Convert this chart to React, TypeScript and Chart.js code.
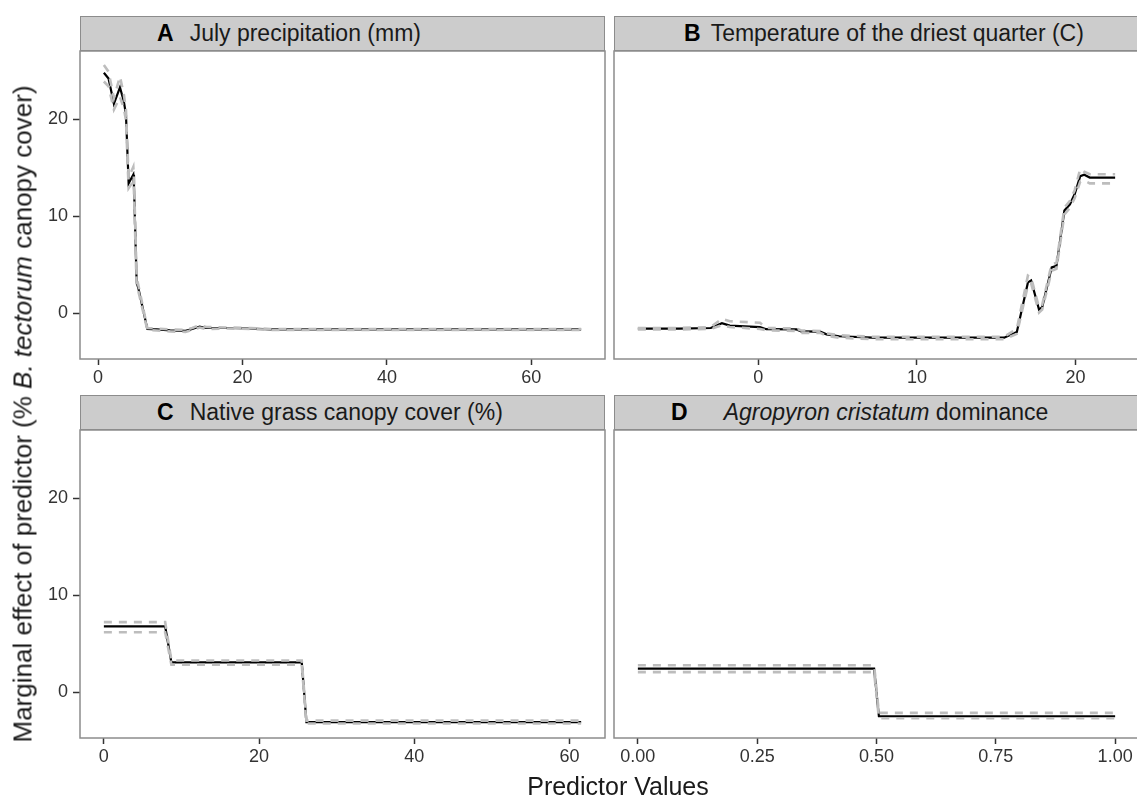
import React, { useEffect, useRef } from "react";
import { Chart, registerables } from "chart.js";

Chart.register(...registerables);

// ---------- data ----------
const yTickValues = [0, 10, 20];
const yLow = -3.25;
const yHigh = 25.6;

// A: July precipitation (mm)
const aX = [0.8, 1.45, 2.19, 3.03, 3.58, 3.86, 4.23, 4.59, 4.88, 4.97, 5.34, 5.61, 6.82, 8.12, 9.98, 12.11, 13.04, 14.06, 14.98, 17.85, 21.09, 23.87, 31.7, 40.96, 50.31, 59.56, 66.9];
const aMean = [24.8, 24.2, 21.6, 23.3, 21.8, 20.5, 13.4, 13.9, 14.3, 13.2, 3.2, 2.5, -1.6, -1.65, -1.75, -1.8, -1.6, -1.35, -1.5, -1.5, -1.55, -1.65, -1.65, -1.65, -1.65, -1.65, -1.65];
const aUpper = [25.6, 24.9, 22.2, 24.4, 22.5, 21.0, 14.0, 14.6, 15.1, 13.8, 3.7, 2.8, -1.5, -1.55, -1.65, -1.7, -1.5, -1.2, -1.4, -1.45, -1.5, -1.6, -1.6, -1.6, -1.6, -1.6, -1.6];
const aLower = [23.9, 23.4, 21.0, 22.3, 21.1, 19.9, 12.9, 13.3, 13.6, 12.6, 2.7, 2.2, -1.7, -1.75, -1.85, -1.9, -1.7, -1.45, -1.6, -1.55, -1.6, -1.7, -1.7, -1.7, -1.7, -1.7, -1.7];
const aTicks = [0, 20, 40, 60];

// B: Temperature of the driest quarter (C)
const bX = [-7.6, -5, -3.0, -2.3, -1.8, 0.1, 0.5, 2.4, 2.7, 3.9, 4.3, 5.1, 7.2, 10, 13, 15.5, 16.3, 17.0, 17.2, 17.7, 17.9, 18.5, 18.8, 19.3, 19.65, 19.95, 20.3, 20.55, 20.9, 22.5];
const bMean = [-1.57, -1.57, -1.5, -1.0, -1.25, -1.4, -1.62, -1.65, -1.85, -1.88, -2.15, -2.35, -2.5, -2.5, -2.5, -2.5, -1.9, 3.2, 3.4, 0.4, 0.65, 4.75, 4.9, 10.6, 11.25, 12.3, 14.15, 14.3, 14.0, 14.0];
const bUpper = [-1.5, -1.5, -1.4, -0.55, -0.8, -0.95, -1.5, -1.55, -1.75, -1.8, -2.05, -2.25, -2.4, -2.4, -2.4, -2.4, -1.6, 3.9, 3.7, 0.6, 0.9, 5.1, 5.2, 10.9, 11.6, 12.7, 14.9, 14.6, 14.35, 14.35];
const bLower = [-1.65, -1.65, -1.6, -1.2, -1.4, -1.6, -1.75, -1.8, -2.0, -2.0, -2.3, -2.5, -2.65, -2.65, -2.65, -2.65, -2.1, 2.9, 3.1, 0.1, 0.4, 4.4, 4.6, 10.2, 10.9, 11.9, 13.6, 13.7, 13.4, 13.4];
const bTicks = [0, 10, 20];

// C: Native grass canopy cover (%)
const cX = [0, 7.9, 8.7, 25.5, 26.1, 61.5];
const cMean = [6.8, 6.8, 3.1, 3.1, -3.05, -3.05];
const cUpper = [7.25, 7.25, 3.3, 3.3, -2.9, -2.9];
const cLower = [6.2, 6.2, 2.85, 2.85, -3.2, -3.2];
const cTicks = [0, 20, 40, 60];

// D: Agropyron cristatum dominance
const dX = [0, 0.495, 0.505, 1];
const dMean = [2.45, 2.45, -2.45, -2.45];
const dUpper = [2.8, 2.8, -2.1, -2.1];
const dLower = [2.1, 2.1, -2.65, -2.65];
const dTicks = [0, 0.25, 0.5, 0.75, 1];

// ---------- layout ----------
const PLOT_W = 525;
const PLOT_H = 308;
const Y_AXIS_W = 80;
const X_AXIS_H = 40;
const PAD = 20;
const STRIP_H = 35;
const FONT = "'Liberation Sans', Arial, Helvetica, sans-serif";

const borderPlugin = {
  id: "panelBorder",
  afterDatasetsDraw(chart: any) {
    const { ctx, chartArea } = chart;
    const { left, top, right, bottom } = chartArea;
    ctx.save();
    ctx.strokeStyle = "#8c8c8c";
    ctx.lineWidth = 1.5;
    ctx.strokeRect(left, top, right - left, bottom - top);
    ctx.restore();
  },
};

function expand(xs: number[]) {
  const lo = Math.min(...xs);
  const hi = Math.max(...xs);
  const e = (hi - lo) * 0.05;
  return [lo - e, hi + e];
}

type PanelProps = {
  xs: number[];
  mean: number[];
  upper: number[];
  lower: number[];
  ticks: number[];
  decimals: number;
  showY: boolean;
  plotLeft: number;
  plotTop: number;
};

function Panel({ xs, mean, upper, lower, ticks, decimals, showY, plotLeft, plotTop }: PanelProps) {
  const ref = useRef<HTMLCanvasElement | null>(null);
  const leftSpace = showY ? Y_AXIS_W : PAD;
  const width = leftSpace + PLOT_W + PAD;
  const height = PAD + PLOT_H + X_AXIS_H;

  useEffect(() => {
    if (!ref.current) return;
    const [xMin, xMax] = expand(xs);
    const yr = (yHigh - yLow) * 0.05;
    const pts = (ys: number[]) => xs.map((x, i) => ({ x, y: ys[i] }));
    const gray = {
      borderColor: "#bdbdbd",
      borderWidth: 2.6,
      borderDash: [8, 7],
      pointRadius: 0,
      tension: 0,
      fill: false,
    };
    const tickFont = { family: FONT, size: 18 };
    const chart = new Chart(ref.current, {
      type: "line",
      data: {
        datasets: [
          { ...gray, label: "upper", data: pts(upper) },
          { ...gray, label: "lower", data: pts(lower) },
          {
            label: "mean",
            data: pts(mean),
            borderColor: "#000000",
            borderWidth: 2.2,
            pointRadius: 0,
            tension: 0,
            fill: false,
          },
        ],
      },
      options: {
        animation: false,
        responsive: false,
        maintainAspectRatio: false,
        devicePixelRatio: 1,
        layout: { padding: { left: showY ? 0 : PAD, right: PAD, top: PAD, bottom: 0 } },
        plugins: { legend: { display: false }, tooltip: { enabled: false } },
        scales: {
          x: {
            type: "linear",
            min: xMin,
            max: xMax,
            afterBuildTicks: (s: any) => {
              s.ticks = ticks.filter((v) => v >= xMin && v <= xMax).map((v) => ({ value: v }));
            },
            afterFit: (s: any) => {
              s.height = X_AXIS_H;
            },
            ticks: {
              font: tickFont,
              color: "#333333",
              padding: 2,
              maxRotation: 0,
              autoSkip: false,
              callback: (v: any) => Number(v).toFixed(decimals),
            },
            grid: {
              display: true,
              drawOnChartArea: false,
              drawTicks: true,
              tickLength: 6,
              tickColor: "#333333",
              tickWidth: 1.5,
            },
            border: { display: false },
          },
          y: {
            type: "linear",
            display: showY,
            min: yLow - yr,
            max: yHigh + yr,
            afterBuildTicks: (s: any) => {
              s.ticks = yTickValues.map((v) => ({ value: v }));
            },
            afterFit: (s: any) => {
              s.width = showY ? Y_AXIS_W : 0;
            },
            ticks: {
              font: tickFont,
              color: "#333333",
              padding: 5,
              autoSkip: false,
              callback: (v: any) => String(v),
            },
            grid: {
              display: true,
              drawOnChartArea: false,
              drawTicks: true,
              tickLength: 7,
              tickColor: "#333333",
              tickWidth: 1.5,
            },
            border: { display: false },
          },
        },
      },
      plugins: [borderPlugin],
    } as any);
    return () => chart.destroy();
  }, []);

  return (
    <canvas
      ref={ref}
      width={width}
      height={height}
      style={{
        position: "absolute",
        left: plotLeft - leftSpace,
        top: plotTop - PAD,
        width,
        height,
      }}
    />
  );
}

type StripProps = {
  letter: string;
  left: number;
  top: number;
  textLeft: number | null;
  gap: number;
  children: React.ReactNode;
};

function Strip({ letter, left, top, textLeft, gap, children }: StripProps) {
  return (
    <div
      style={{
        position: "absolute",
        left,
        top,
        width: PLOT_W,
        height: STRIP_H,
        boxSizing: "border-box",
        background: "#cccccc",
        border: "1.5px solid #8c8c8c",
        display: "flex",
        alignItems: "center",
        justifyContent: textLeft === null ? "center" : "flex-start",
        paddingLeft: textLeft === null ? 0 : textLeft,
        fontFamily: FONT,
        fontSize: 23,
        color: "#1a1a1a",
        whiteSpace: "nowrap",
      }}
    >
      <span style={{ fontWeight: "bold", color: "#000" }}>{letter}</span>
      <span style={{ marginLeft: gap }}>{children}</span>
    </div>
  );
}

export default function App() {
  const colL = 80;
  const colR = 614;
  const rowT = 51;
  const rowB = 430;
  return (
    <div
      style={{
        position: "fixed",
        left: 0,
        top: 0,
        width: 1137,
        height: 801,
        overflow: "hidden",
        background: "#ffffff",
        fontFamily: FONT,
      }}
    >
      <Strip letter="A" left={colL} top={rowT - STRIP_H} textLeft={76} gap={16}>
        July precipitation (mm)
      </Strip>
      <Strip letter="B" left={colR} top={rowT - STRIP_H} textLeft={69} gap={10}>
        Temperature of the driest quarter (C)
      </Strip>
      <Strip letter="C" left={colL} top={rowB - STRIP_H} textLeft={76} gap={16}>
        Native grass canopy cover (%)
      </Strip>
      <Strip letter="D" left={colR} top={rowB - STRIP_H} textLeft={56} gap={36}>
        <i>Agropyron cristatum</i> dominance
      </Strip>

      <Panel xs={aX} mean={aMean} upper={aUpper} lower={aLower} ticks={aTicks} decimals={0} showY={true} plotLeft={colL} plotTop={rowT} />
      <Panel xs={bX} mean={bMean} upper={bUpper} lower={bLower} ticks={bTicks} decimals={0} showY={false} plotLeft={colR} plotTop={rowT} />
      <Panel xs={cX} mean={cMean} upper={cUpper} lower={cLower} ticks={cTicks} decimals={0} showY={true} plotLeft={colL} plotTop={rowB} />
      <Panel xs={dX} mean={dMean} upper={dUpper} lower={dLower} ticks={dTicks} decimals={2} showY={false} plotLeft={colR} plotTop={rowB} />

      <div
        style={{
          position: "absolute",
          left: 23,
          top: 414,
          transform: "translate(-50%, -50%) rotate(-90deg)",
          whiteSpace: "nowrap",
          fontSize: 26,
          color: "#1a1a1a",
        }}
      >
        Marginal effect of predictor (% <i>B. tectorum</i> canopy cover)
      </div>
      <div
        style={{
          position: "absolute",
          left: 618,
          top: 786,
          transform: "translate(-50%, -50%)",
          whiteSpace: "nowrap",
          fontSize: 25,
          color: "#1a1a1a",
        }}
      >
        Predictor Values
      </div>
    </div>
  );
}
